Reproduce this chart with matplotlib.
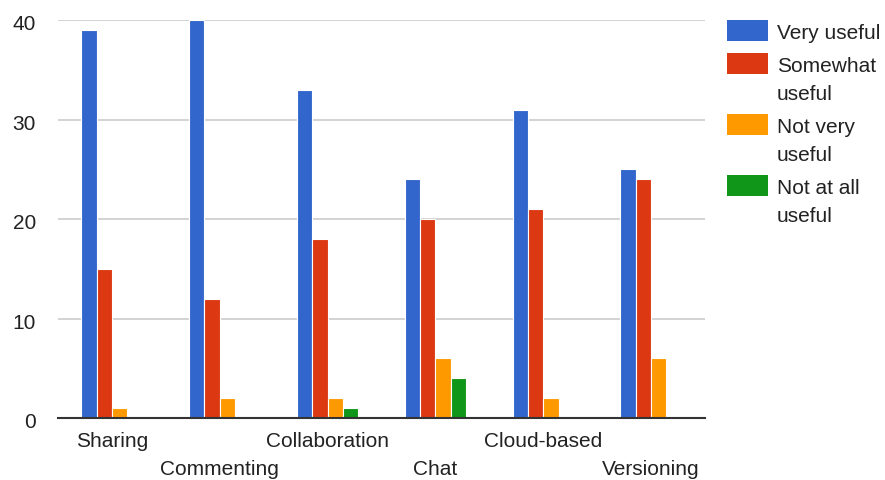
import numpy as np
import matplotlib
matplotlib.use("Agg")
import matplotlib.pyplot as plt
import matplotlib.transforms as mtransforms
from matplotlib.patches import Rectangle

plt.rcParams['font.family'] = ['Liberation Sans', 'DejaVu Sans']

categories = ['Sharing', 'Commenting', 'Collaboration', 'Chat', 'Cloud-based', 'Versioning']
series = ['Very useful', 'Somewhat\nuseful', 'Not very\nuseful', 'Not at all\nuseful']
very_useful = [39, 40, 33, 24, 31, 25]
somewhat_useful = [15, 12, 18, 20, 21, 24]
not_very_useful = [1, 2, 2, 6, 2, 6]
not_at_all_useful = [0, 0, 1, 4, 0, 0]
colors = ['#3366cc', '#dc3912', '#ff9900', '#109618']
yticks = [0, 10, 20, 30, 40]

W, H = 885, 481
fig = plt.figure(figsize=(W / 100, H / 100), dpi=100)
ax = fig.add_axes([58 / W, 62 / H, 647 / W, 398 / H])

x = np.arange(len(categories))
bw = 0.142
values = [very_useful, somewhat_useful, not_very_useful, not_at_all_useful]
for i, (vals, c) in enumerate(zip(values, colors)):
    ax.bar(x + (i - 1.5) * bw, vals, width=bw, color=c, edgecolor='white', linewidth=0.8, zorder=3)

ax.set_xlim(-0.5, len(categories) - 0.5)
ax.set_ylim(0, 40)
ax.set_yticks(yticks)
ax.set_yticklabels([str(v) for v in yticks])
ax.grid(axis='y', color='#cccccc', linewidth=1.2, zorder=0)
for s in ['left', 'right', 'top']:
    ax.spines[s].set_visible(False)
ax.spines['bottom'].set_color('#333333')
ax.spines['bottom'].set_linewidth(1.5)
ax.spines['bottom'].set_zorder(4)

# category labels staggered on two rows
ax.set_xticks(x[::2])
ax.set_xticklabels(categories[::2])
ax.set_xticks(x[1::2], minor=True)
ax.set_xticklabels(categories[1::2], minor=True)
ax.tick_params(axis='x', which='major', length=0, pad=9.5, labelsize=15, labelcolor='#222222')
ax.tick_params(axis='x', which='minor', length=0, pad=29.5, labelsize=15, labelcolor='#222222')
ax.tick_params(axis='y', length=0, pad=16, labelsize=15, labelcolor='#222222')
shift = mtransforms.ScaledTranslation(0, -2 / 100, fig.dpi_scale_trans)
for lab in ax.get_yticklabels():
    lab.set_transform(lab.get_transform() + shift)

# legend on the right
box_tops = [21, 54, 115, 176]
for top, label, c in zip(box_tops, series, colors):
    fig.add_artist(Rectangle((727 / W, 1 - (top + 21) / H), 41 / W, 21 / H,
                             transform=fig.transFigure, facecolor=c, edgecolor='none'))
    for k, line in enumerate(label.split('\n')):
        base = top + 10.5 + 7.5 + 28 * k
        fig.text(777 / W, 1 - base / H, line, fontsize=15, color='#222222',
                 va='baseline', ha='left')

fig.savefig('out.png', dpi=100)
